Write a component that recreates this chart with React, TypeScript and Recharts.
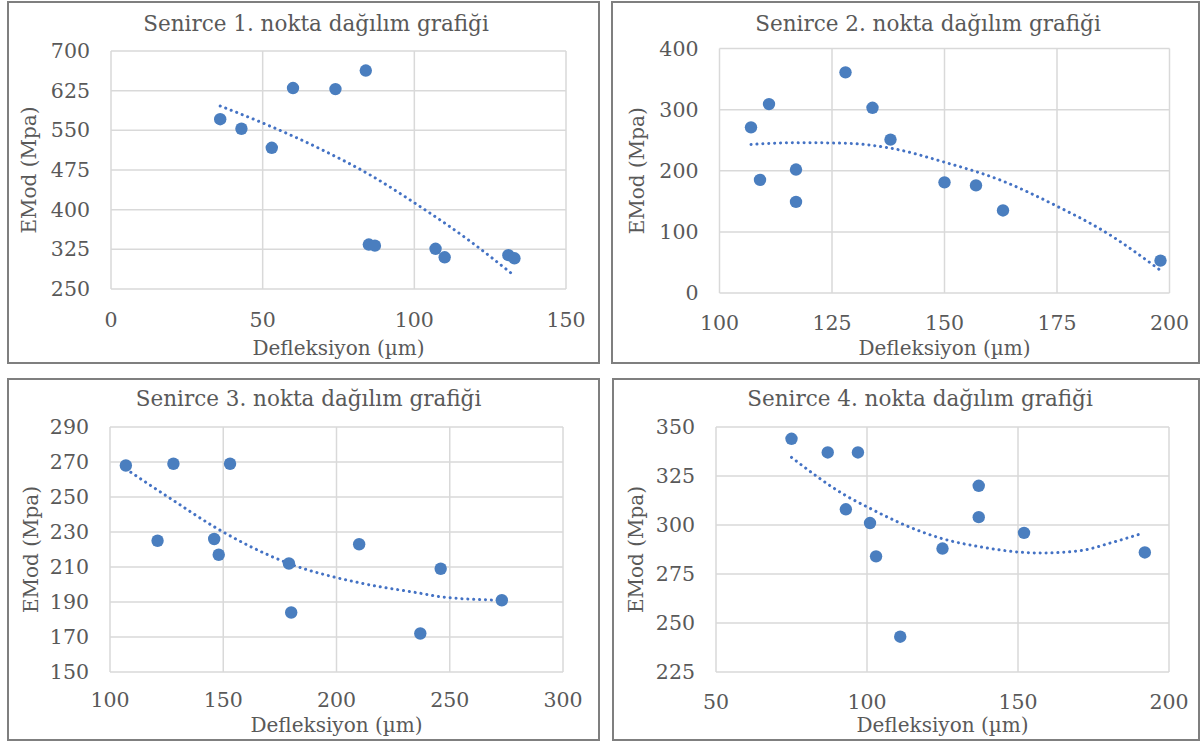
import React from "react";
import { ComposedChart, Scatter, Line, XAxis, YAxis, CartesianGrid } from "recharts";

const FONT = "'DejaVu Serif', serif";
const TXT = "#595959";
const DOT = "#4a7ebf";
const TREND = "#4472c4";
const GRID = "#d9d9d9";

// Senirce 1
const p1X = [36, 43, 53, 60, 74, 84, 85, 87, 107, 110, 131, 133];
const p1Y = [571, 553, 517, 630, 628, 663, 334, 332, 326, 310, 314, 308];
const t1X = [36, 50, 70, 85, 100, 118, 133];
const t1Y = [596, 564, 512, 467, 413, 342, 275];
const x1Ticks = [0, 50, 100, 150];
const y1Ticks = [250, 325, 400, 475, 550, 625, 700];

// Senirce 2
const p2X = [107, 109, 111, 117, 117, 128, 134, 138, 150, 157, 163, 198];
const p2Y = [271, 185, 309, 202, 149, 361, 303, 251, 181, 176, 135, 53];
const t2X = [107, 117, 128, 138, 150, 163, 175, 185, 198];
const t2Y = [243, 246, 245, 237, 214, 183, 142, 103, 37];
const x2Ticks = [100, 125, 150, 175, 200];
const y2Ticks = [0, 100, 200, 300, 400];

// Senirce 3
const p3X = [107, 128, 153, 121, 146, 148, 179, 180, 210, 237, 246, 273];
const p3Y = [268, 269, 269, 225, 226, 217, 212, 184, 223, 172, 209, 191];
const t3X = [107, 128, 146, 179, 210, 237, 246, 272];
const t3Y = [266, 248, 233, 212, 201, 195, 193, 191];
const x3Ticks = [100, 150, 200, 250, 300];
const y3Ticks = [150, 170, 190, 210, 230, 250, 270, 290];

// Senirce 4
const p4X = [75, 87, 97, 93, 101, 103, 111, 125, 137, 137, 152, 192];
const p4Y = [344, 337, 337, 308, 301, 284, 243, 288, 320, 304, 296, 286];
const t4X = [75, 93, 101, 111, 125, 137, 152, 158, 171, 181, 190.5];
const t4Y = [334.5, 315, 308.5, 301, 293, 289, 286, 285.7, 287, 291, 295.4];
const x4Ticks = [50, 100, 150, 200];
const y4Ticks = [225, 250, 275, 300, 325, 350];

const titles = [
  "Senirce 1. nokta dağılım grafiği",
  "Senirce 2. nokta dağılım grafiği",
  "Senirce 3. nokta dağılım grafiği",
  "Senirce 4. nokta dağılım grafiği",
];
const xLabel = "Defleksiyon (µm)";
const yLabel = "EMod (Mpa)";

const zip = (xs: number[], ys: number[]) => xs.map((x, i) => ({ x, y: ys[i] }));

type PanelCfg = {
  left: number; top: number; w: number; h: number;
  plotL: number; plotR: number; plotT: number; plotB: number;
  xTicks: number[]; yTicks: number[];
  pts: { x: number; y: number }[]; trend: { x: number; y: number }[];
  tickDy: number; labelDy: number; yLabelDx: number;
  title: string; titleX: number; titleY: number;
};

const panels: PanelCfg[] = [
  {
    left: 7, top: 1, w: 593, h: 363, plotL: 111, plotR: 566, plotT: 51, plotB: 289,
    xTicks: x1Ticks, yTicks: y1Ticks, pts: zip(p1X, p1Y), trend: zip(t1X, t1Y),
    tickDy: 31, labelDy: 59, yLabelDx: 82, title: titles[0], titleX: 316, titleY: 31,
  },
  {
    left: 611, top: 1, w: 589, h: 363, plotL: 719.5, plotR: 1169.5, plotT: 48.5, plotB: 293,
    xTicks: x2Ticks, yTicks: y2Ticks, pts: zip(p2X, p2Y), trend: zip(t2X, t2Y),
    tickDy: 30, labelDy: 55, yLabelDx: 82.5, title: titles[1], titleX: 928, titleY: 31,
  },
  {
    left: 7, top: 378, w: 593, h: 363, plotL: 110, plotR: 563, plotT: 427, plotB: 672,
    xTicks: x3Ticks, yTicks: y3Ticks, pts: zip(p3X, p3Y), trend: zip(t3X, t3Y),
    tickDy: 28, labelDy: 53, yLabelDx: 79, title: titles[2], titleX: 308.5, titleY: 406,
  },
  {
    left: 612, top: 378, w: 588, h: 363, plotL: 716, plotR: 1169, plotT: 427, plotB: 672,
    xTicks: x4Ticks, yTicks: y4Ticks, pts: zip(p4X, p4Y), trend: zip(t4X, t4Y),
    tickDy: 30, labelDy: 53, yLabelDx: 80, title: titles[3], titleX: 920, titleY: 406,
  },
];

const Panel = ({ c }: { c: PanelCfg }) => {
  const yAxisW = c.plotL - c.left;
  const mTop = c.plotT - c.top;
  const mRight = c.left + c.w - c.plotR;
  const xAxisH = c.top + c.h - c.plotB;
  const xMin = c.xTicks[0], xMax = c.xTicks[c.xTicks.length - 1];
  const yMin = c.yTicks[0], yMax = c.yTicks[c.yTicks.length - 1];

  const xTick = (p: any) => (
    <text x={p.x} y={p.y + c.tickDy} textAnchor="middle" dominantBaseline="central"
      fill={TXT} fontSize={20.5} fontFamily={FONT}>{p.payload.value}</text>
  );
  const yTick = (p: any) => (
    <text x={p.x - 21} y={p.y} textAnchor="end" dominantBaseline="central"
      fill={TXT} fontSize={20.5} fontFamily={FONT}>{p.payload.value}</text>
  );
  const xLab = (p: any) => {
    const vb = p.viewBox;
    return (
      <text x={vb.x + vb.width / 2} y={vb.y + c.labelDy} textAnchor="middle" dominantBaseline="central"
        fill={TXT} fontSize={20} fontFamily={FONT}>{xLabel}</text>
    );
  };
  const yLab = (p: any) => {
    const vb = p.viewBox;
    const x = vb.x + vb.width - c.yLabelDx;
    const y = vb.y + vb.height / 2;
    return (
      <text x={x} y={y} transform={`rotate(-90, ${x}, ${y})`} textAnchor="middle" dominantBaseline="central"
        fill={TXT} fontSize={20} fontFamily={FONT}>{yLabel}</text>
    );
  };

  return (
    <>
      <div style={{ position: "absolute", left: c.left, top: c.top, width: c.w, height: c.h }}>
        <ComposedChart width={c.w} height={c.h} margin={{ top: mTop, right: mRight, left: 0, bottom: 0 }}>
          <CartesianGrid stroke={GRID} strokeWidth={1.5} />
          <XAxis type="number" dataKey="x" domain={[xMin, xMax]} ticks={c.xTicks} allowDataOverflow
            axisLine={false} tickLine={false} tickSize={0} tickMargin={0} height={xAxisH}
            tick={xTick} interval={0} label={{ content: xLab }} />
          <YAxis type="number" dataKey="y" domain={[yMin, yMax]} ticks={c.yTicks} allowDataOverflow
            axisLine={false} tickLine={false} tickSize={0} tickMargin={0} width={yAxisW}
            tick={yTick} interval={0} label={{ content: yLab }} />
          <Scatter data={c.pts} dataKey="y" isAnimationActive={false}
            shape={(p: any) => <circle cx={p.cx} cy={p.cy} r={6.2} fill={DOT} />} />
          <Line data={c.trend} dataKey="y" type="monotone" dot={false} activeDot={false}
            stroke={TREND} strokeWidth={3} strokeLinecap="round" strokeDasharray="0.1 5.8"
            isAnimationActive={false} />
        </ComposedChart>
      </div>
      <div style={{
        position: "absolute", left: c.left, top: c.top, width: c.w, height: c.h,
        boxSizing: "border-box", border: "2px solid #7f7f7f", pointerEvents: "none",
      }} />
    </>
  );
};

export default function App() {
  return (
    <div style={{ position: "absolute", left: 0, top: 0, width: 1203, height: 744, background: "#fff" }}>
      {panels.map((c, i) => <Panel key={i} c={c} />)}
      <svg width={1203} height={744} style={{ position: "absolute", left: 0, top: 0, pointerEvents: "none" }}>
        {panels.map((c, i) => (
          <text key={i} x={c.titleX} y={c.titleY} textAnchor="middle" fill={TXT} fontSize={21.5} fontFamily={FONT}>
            {c.title}
          </text>
        ))}
      </svg>
    </div>
  );
}
